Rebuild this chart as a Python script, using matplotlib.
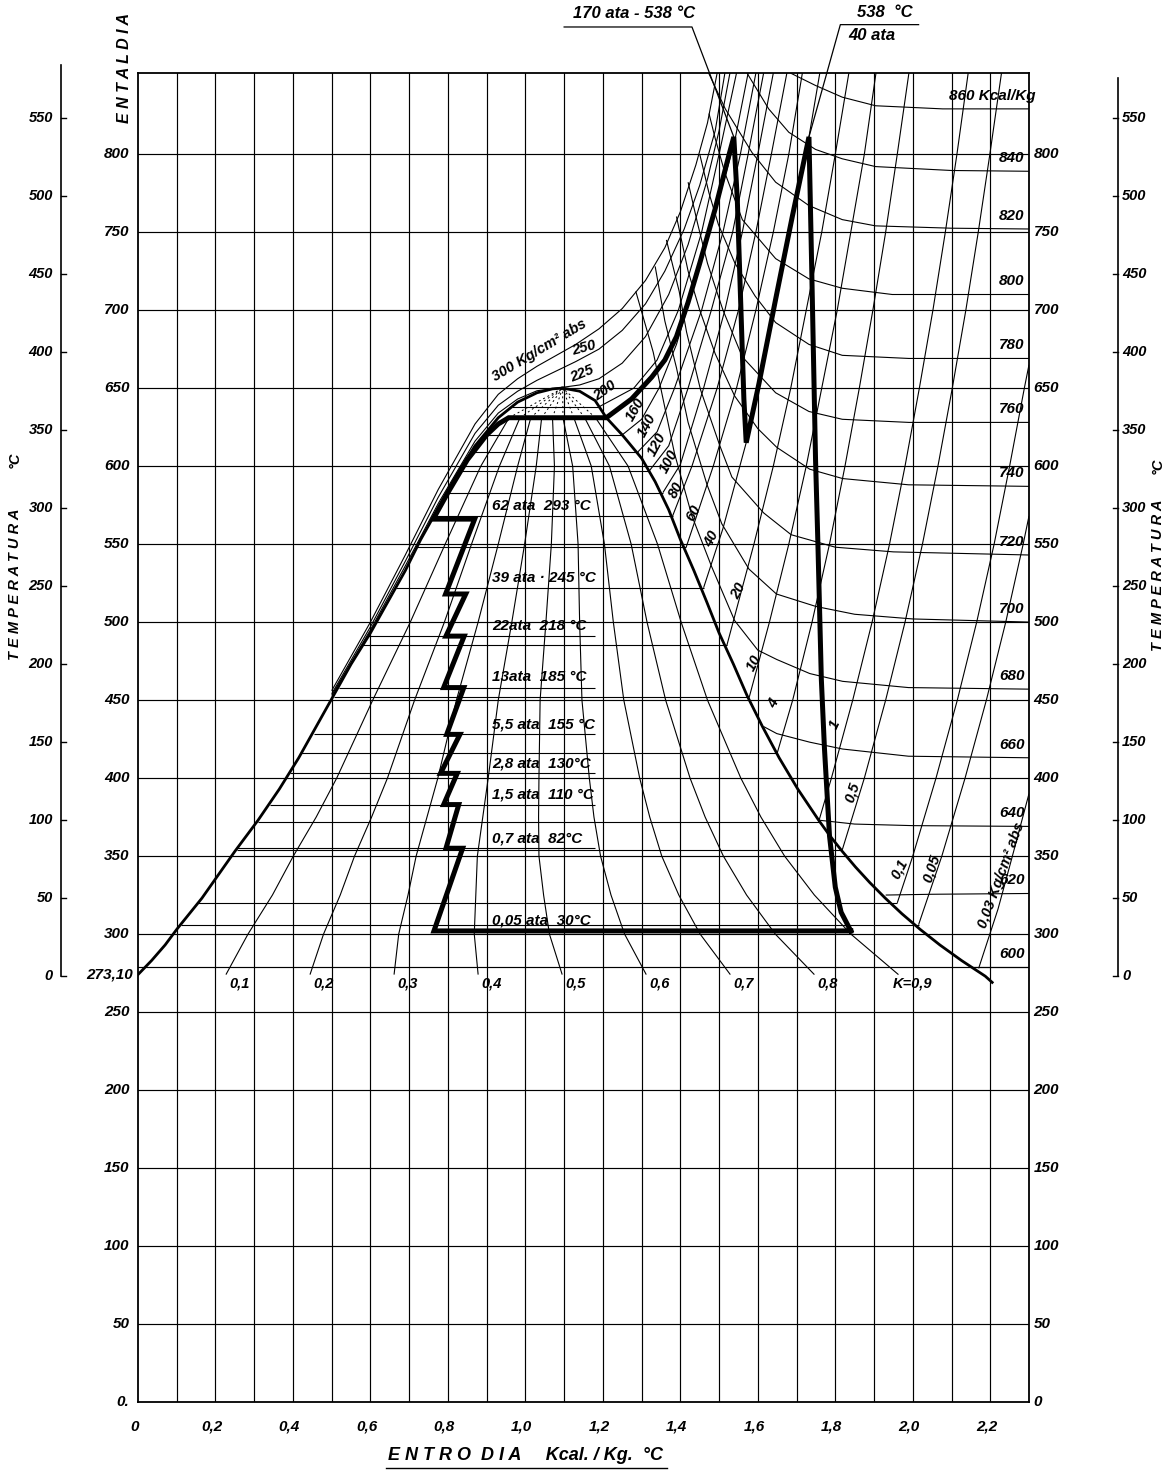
import matplotlib
matplotlib.use("Agg")
import matplotlib.pyplot as plt

plt.rcParams["font.family"] = ["Liberation Sans", "DejaVu Sans"]

# ---------------- saturation curve (s kcal/kg.K , T K) ----------------
liq_s = [0.0, 0.035, 0.07, 0.10, 0.165, 0.25, 0.31, 0.365, 0.415, 0.46, 0.505, 0.55,
         0.60, 0.645, 0.69, 0.73, 0.775, 0.82, 0.87, 0.93, 0.98, 1.03, 1.07, 1.096]
liq_T = [274, 283, 293, 303, 323, 353, 373, 393, 413, 433, 453, 473,
         493, 513, 533, 553, 573, 593, 613, 631, 641, 647, 649.5, 650]
vap_s = [1.096, 1.14, 1.18, 1.209, 1.25, 1.30, 1.335, 1.37, 1.40, 1.435, 1.468, 1.50,
         1.537, 1.572, 1.612, 1.655, 1.703, 1.757, 1.786, 1.818, 1.852, 1.889, 1.929,
         1.972, 2.019, 2.07, 2.126, 2.187, 2.205]
vap_T = [650, 648, 642, 631, 620, 605, 590, 572, 553, 533, 513, 493,
         473, 453, 433, 413, 393, 373, 363, 353, 343, 333, 323,
         313, 303, 293, 283, 273, 269]
crit = (1.096, 650)

# ---------------- constant quality lines ----------------
q_T = [274, 300, 325, 350, 375, 400, 450, 500, 550, 600, 631]
q_01 = [0.227, 0.284, 0.347, 0.401, 0.460, 0.513, 0.606, 0.703, 0.793, 0.885, 0.958]
q_02 = [0.444, 0.479, 0.522, 0.559, 0.603, 0.644, 0.714, 0.791, 0.861, 0.933, 0.986]
q_03 = [0.661, 0.673, 0.697, 0.718, 0.746, 0.774, 0.822, 0.878, 0.930, 0.980, 1.014]
q_04 = [0.878, 0.868, 0.872, 0.876, 0.890, 0.904, 0.930, 0.965, 0.998, 1.028, 1.042]
q_05 = [1.095, 1.062, 1.047, 1.035, 1.034, 1.035, 1.038, 1.053, 1.067, 1.075, 1.070]
q_06 = [1.312, 1.256, 1.221, 1.194, 1.177, 1.165, 1.146, 1.140, 1.136, 1.122, 1.097]
q_07 = [1.529, 1.451, 1.396, 1.352, 1.321, 1.295, 1.254, 1.227, 1.204, 1.170, 1.125]
q_08 = [1.746, 1.645, 1.571, 1.511, 1.464, 1.425, 1.362, 1.314, 1.273, 1.217, 1.153]
q_09 = [1.963, 1.840, 1.746, 1.669, 1.608, 1.556, 1.470, 1.402, 1.341, 1.265, 1.181]
q_names = ["0,1", "0,2", "0,3", "0,4", "0,5", "0,6", "0,7", "0,8", "K=0,9"]

# ---------------- isobars inside the wet region ----------------
wet_T = [638, 620, 609, 597, 583, 568, 548, 522, 485, 452, 416, 372, 354, 320, 306]
wet_sf = [0.965, 0.895, 0.86, 0.83, 0.80, 0.765, 0.72, 0.665, 0.58, 0.505, 0.42, 0.31, 0.255, 0.155, 0.11]
wet_sg = [1.19, 1.25, 1.29, 1.32, 1.355, 1.38, 1.415, 1.46, 1.52, 1.578, 1.65, 1.757, 1.818, 1.96, 2.015]

# feed-heater levels (partial lines)
heat_T = [491, 458, 428, 403, 383, 355]
heat_s0 = [0.595, 0.52, 0.455, 0.392, 0.34, 0.255]
heat_s1 = [1.18, 1.18, 1.18, 1.18, 1.18, 1.18]
heat_lab_T = [568, 522, 491, 458, 428, 403, 383, 355, 302]
heat_lab = ["62 ata  293 °C", "39 ata · 245 °C", "22ata  218 °C", "13ata  185 °C",
            "5,5 ata  155 °C", "2,8 ata  130°C", "1,5 ata  110 °C", "0,7 ata  82°C",
            "0,05 ata  30°C"]

# ---------------- isobars (kg/cm2 abs), superheated / supercritical ----------------
iso_300 = [(0.50, 456), (0.60, 500), (0.69, 543), (0.775, 585), (0.87, 627), (0.93, 646),
           (0.98, 656), (1.03, 664), (1.08, 671), (1.13, 678), (1.19, 688), (1.25, 701),
           (1.31, 719), (1.36, 740), (1.40, 763), (1.44, 793), (1.47, 820), (1.495, 852)]
iso_250 = [(0.50, 454), (0.60, 497), (0.69, 539), (0.775, 580), (0.87, 621), (0.93, 639),
           (0.98, 648), (1.03, 655), (1.08, 661), (1.13, 667), (1.19, 675), (1.25, 687),
           (1.31, 704), (1.36, 725), (1.41, 752), (1.45, 780), (1.49, 815), (1.515, 852)]
iso_225 = [(0.50, 453), (0.60, 495), (0.69, 536), (0.775, 576), (0.87, 616), (0.93, 634),
           (0.98, 643), (1.03, 648.3), (1.096, 650.5), (1.14, 652), (1.19, 656), (1.25, 666),
           (1.31, 683), (1.37, 710), (1.42, 742), (1.47, 784), (1.50, 815), (1.528, 852)]
iso_200 = [(1.19, 638), (1.28, 650), (1.34, 668), (1.395, 700), (1.455, 750), (1.50, 800), (1.545, 852)]
iso_160 = [(1.25, 620), (1.30, 630), (1.345, 650), (1.39, 678), (1.455, 732), (1.50, 772), (1.54, 808), (1.575, 852)]
iso_140 = [(1.29, 609), (1.34, 622), (1.385, 650), (1.42, 675), (1.455, 700), (1.51, 750), (1.555, 800), (1.595, 852)]
iso_120 = [(1.32, 597), (1.37, 613), (1.42, 650), (1.45, 675), (1.48, 700), (1.535, 750), (1.575, 800), (1.615, 852)]
iso_100 = [(1.355, 583), (1.40, 601), (1.46, 650), (1.515, 700), (1.56, 750), (1.60, 800), (1.64, 852)]
iso_80 = [(1.38, 568), (1.43, 600), (1.495, 650), (1.55, 700), (1.595, 750), (1.635, 800), (1.675, 852)]
iso_60 = [(1.415, 548), (1.485, 600), (1.545, 650), (1.595, 700), (1.64, 750), (1.68, 800), (1.715, 852)]
iso_40 = [(1.46, 522), (1.51, 560), (1.57, 615), (1.603, 653), (1.646, 707), (1.689, 760), (1.732, 811), (1.76, 852)]
iso_20 = [(1.52, 485), (1.59, 550), (1.64, 600), (1.685, 650), (1.725, 700), (1.765, 750), (1.80, 800), (1.835, 852)]
iso_10 = [(1.578, 452), (1.63, 500), (1.68, 550), (1.725, 600), (1.765, 650), (1.805, 700), (1.84, 750), (1.875, 800), (1.905, 852)]
iso_4 = [(1.65, 416), (1.69, 450), (1.74, 500), (1.785, 550), (1.825, 600), (1.862, 650), (1.897, 700), (1.93, 750), (1.96, 800), (1.99, 852)]
iso_1 = [(1.757, 372), (1.79, 400), (1.845, 450), (1.895, 500), (1.94, 550), (1.98, 600), (2.017, 650), (2.052, 700), (2.084, 750), (2.114, 800), (2.143, 852)]
iso_05 = [(1.818, 354), (1.875, 400), (1.93, 450), (1.98, 500), (2.025, 550), (2.065, 600), (2.102, 650), (2.137, 700), (2.169, 750), (2.199, 800), (2.229, 852)]
iso_01 = [(1.96, 320), (2.0, 350), (2.06, 400), (2.115, 450), (2.165, 500), (2.21, 550), (2.25, 600), (2.288, 650), (2.3, 665)]
iso_005 = [(2.015, 306), (2.075, 350), (2.135, 400), (2.19, 450), (2.24, 500), (2.285, 550), (2.3, 568)]
iso_003 = [(2.17, 278), (2.22, 316), (2.255, 348), (2.3, 390)]

# ---------------- constant enthalpy lines (kcal/kg) ----------------
h_860 = [(1.684, 852), (1.749, 844), (1.818, 836.5), (1.904, 831), (2.077, 829), (2.3, 829)]
h_840 = [(1.572, 852), (1.628, 829), (1.68, 814), (1.749, 803), (1.818, 797), (1.904, 792), (2.1, 789.5), (2.3, 789)]
h_820 = [(1.473, 852), (1.516, 829), (1.585, 801), (1.646, 782), (1.732, 767), (1.818, 758), (1.904, 754), (2.1, 752.5), (2.3, 752)]
h_800 = [(1.474, 826), (1.49, 810), (1.515, 788), (1.56, 758), (1.646, 733), (1.732, 720), (1.818, 714), (1.947, 710), (2.3, 710)]
h_780 = [(1.45, 800), (1.474, 775), (1.498, 755), (1.541, 730), (1.593, 709), (1.646, 692), (1.732, 678), (1.818, 671), (1.99, 669), (2.3, 669)]
h_760 = [(1.42, 782), (1.445, 755), (1.47, 730), (1.51, 700), (1.56, 670), (1.646, 647), (1.732, 635), (1.818, 630), (1.99, 628), (2.3, 628)]
h_740 = [(1.39, 760), (1.42, 725), (1.45, 700), (1.49, 672), (1.54, 645), (1.60, 624), (1.649, 612), (1.734, 598), (1.819, 592), (1.989, 588), (2.3, 587)]
h_720 = [(1.364, 745), (1.397, 712), (1.416, 686), (1.452, 649), (1.502, 613), (1.533, 593), (1.615, 570), (1.686, 556), (1.80, 548), (1.95, 545), (2.3, 543)]
h_700 = [(1.335, 728), (1.36, 693), (1.39, 663), (1.42, 628), (1.469, 588), (1.507, 563), (1.577, 534), (1.648, 518), (1.75, 510), (1.85, 505), (2.0, 502), (2.3, 500)]
h_680 = [(1.285, 712), (1.33, 673), (1.385, 608), (1.43, 568), (1.48, 536), (1.54, 501), (1.60, 482), (1.649, 476), (1.734, 467), (1.819, 462), (1.989, 458), (2.3, 457)]
h_660 = [(1.615, 433), (1.649, 428.5), (1.734, 423), (1.819, 418.6), (1.989, 414), (2.3, 413)]
h_640 = [(1.757, 373), (1.85, 370.5), (2.0, 369.5), (2.3, 369)]
h_620 = [(1.93, 325), (2.05, 325.5), (2.3, 326)]
h_600 = [(2.15, 279), (2.3, 279)]
h_names = ["860 Kcal/Kg", "840", "820", "800", "780", "760", "740", "720", "700", "680",
           "660", "640", "620", "600"]

# ---------------- cycle (heavy line) ----------------
cyc_s = [1.84, 0.764, 0.838, 0.795, 0.828, 0.789, 0.824, 0.781, 0.831, 0.797, 0.841, 0.789,
         0.842, 0.795, 0.846, 0.794, 0.869, 0.762, 0.80, 0.85, 0.90, 0.93, 0.957, 1.209,
         1.274, 1.326, 1.36, 1.39, 1.42, 1.45, 1.49, 1.525, 1.538, 1.547, 1.564, 1.57,
         1.603, 1.646, 1.689, 1.732, 1.739, 1.749, 1.755, 1.764, 1.772, 1.785, 1.80, 1.815, 1.84]
cyc_T = [302, 302, 355, 355, 383, 383, 403, 403, 428, 428, 458, 458,
         491, 491, 518, 518, 566, 566, 583, 604, 620, 627, 631, 631,
         643, 657, 668, 683, 705, 730, 765, 799, 811, 771, 643, 615,
         653, 707, 760, 811, 728, 604, 551, 463, 419, 363, 330, 314, 302]

# ---------------- axes scales ----------------
s_grid = [0.1, 0.2, 0.3, 0.4, 0.5, 0.6, 0.7, 0.8, 0.9, 1.0, 1.1, 1.2, 1.3, 1.4, 1.5,
          1.6, 1.7, 1.8, 1.9, 2.0, 2.1, 2.2]
T_grid = [50, 100, 150, 200, 250, 300, 350, 400, 450, 500, 550, 600, 650, 700, 750, 800]
T_zero = 279
x_labels = ["0", "0,2", "0,4", "0,6", "0,8", "1,0", "1,2", "1,4", "1,6", "1,8", "2,0", "2,2"]
x_label_pos = [0, 0.2, 0.4, 0.6, 0.8, 1.0, 1.2, 1.4, 1.6, 1.8, 2.0, 2.2]
K_labels = [0, 50, 100, 150, 200, 250, 300, 350, 400, 450, 500, 550, 600, 650, 700, 750, 800]
C_labels = [0, 50, 100, 150, 200, 250, 300, 350, 400, 450, 500, 550]
C_pos = [273, 323, 373, 423, 473, 523, 573, 623, 673, 723, 773, 823]

# ======================================================================
W, H = 1163, 1477
fig = plt.figure(figsize=(W / 100, H / 100), dpi=100)
fig.patch.set_facecolor("white")
ax = fig.add_axes([138 / W, 1 - 1402 / H, (1029 - 138) / W, (1402 - 73) / H])
ax.set_xlim(0, 2.3)
ax.set_ylim(0, 852)
ax.set_xticks([])
ax.set_yticks([])
for sp in ax.spines.values():
    sp.set_linewidth(1.3)

txt = dict(style="italic", weight="bold", color="black")
thin = dict(color="black", lw=0.8, solid_capstyle="butt")

# grid
for s in s_grid:
    ax.axvline(s, color="black", lw=0.85, zorder=1)
for t in T_grid:
    ax.axhline(t, color="black", lw=0.85, zorder=1)
ax.axhline(T_zero, color="black", lw=0.85, zorder=1)

# wet isobars and heater levels
for t, a, b in zip(wet_T, wet_sf, wet_sg):
    ax.plot([a, b], [t, t], zorder=2, **thin)
for t, a, b in zip(heat_T, heat_s0, heat_s1):
    ax.plot([a, b], [t, t], zorder=2, **thin)

# quality lines
q_lines = [q_01, q_02, q_03, q_04, q_05, q_06, q_07, q_08, q_09]
for q, name in zip(q_lines, q_names):
    ax.plot(q, q_T, zorder=2, **thin)
    ax.plot([q[-1], crit[0]], [q_T[-1], crit[1]], color="black", lw=0.7,
            ls=(0, (2, 3)), zorder=2)
    ax.text(q[0] + 0.035, q_T[0] - 1, name, ha="center", va="top", fontsize=10.5, **txt)

# isobars
for iso in [iso_300, iso_250, iso_225, iso_200, iso_160, iso_140, iso_120, iso_100, iso_80,
            iso_60, iso_40, iso_20, iso_10, iso_4, iso_1, iso_05, iso_01, iso_005, iso_003]:
    xs, ys = zip(*iso)
    ax.plot(xs, ys, zorder=2, **thin)

# enthalpy lines
h_lines = [h_860, h_840, h_820, h_800, h_780, h_760, h_740, h_720, h_700, h_680,
           h_660, h_640, h_620, h_600]
for h, name in zip(h_lines, h_names):
    xs, ys = zip(*h)
    ax.plot(xs, ys, zorder=2, **thin)
    xc = 2.205 if "Kcal" in name else 2.255
    ax.text(xc, ys[-1] + 4, name, ha="center", va="bottom", fontsize=11, **txt)

# saturation dome
ax.plot(liq_s, liq_T, color="black", lw=2.0, zorder=3)
ax.plot(vap_s, vap_T, color="black", lw=2.0, zorder=3)

# cycle
ax.plot(cyc_s, cyc_T, color="black", lw=3.6, solid_joinstyle="miter", zorder=4)

# isobar labels
iso_lab = [("300 Kg/cm² abs", 1.035, 674, 31), ("250", 1.15, 676, 15), ("225", 1.145, 659, 22),
           ("200", 1.205, 648, 35), ("160", 1.285, 636, 60), ("140", 1.315, 626, 62),
           ("120", 1.34, 614, 62), ("100", 1.37, 603, 62), ("80", 1.39, 585, 62),
           ("60", 1.435, 570, 62), ("40", 1.48, 553, 62), ("20", 1.55, 520, 62),
           ("10", 1.59, 474, 62), ("4", 1.64, 448, 62), ("1", 1.80, 434, 65),
           ("0,5", 1.845, 391, 72), ("0,1", 1.965, 342, 62), ("0,05", 2.048, 342, 72),
           ("0,03 Kg/cm² abs", 2.228, 338, 70)]
for name, xs, ys, rot in iso_lab:
    ax.text(xs, ys, name, rotation=rot, ha="center", va="center", fontsize=10.5,
            rotation_mode="anchor", **txt)

# heater labels
for t, name in zip(heat_lab_T, heat_lab):
    ax.text(0.915, t + 2, name, ha="left", va="bottom", fontsize=11, **txt)

# inner scales (K)
for k in K_labels:
    ax.text(-0.022, k, str(k) + ("." if k == 0 else ""), ha="right", va="center",
            fontsize=11, **txt)
    ax.text(2.312, k, str(k), ha="left", va="center", fontsize=11, **txt)
ax.text(-0.012, 274, "273,10", ha="right", va="center", fontsize=11, **txt)

# entropy scale
for p, lab in zip(x_label_pos, x_labels):
    ax.text(p - 0.01, -16, lab, ha="center", va="center", fontsize=11, **txt)

# outer Celsius scales
left_x, right_x = -0.20, 2.53
ax.plot([left_x, left_x], [273, 857], color="black", lw=1.2, clip_on=False)
ax.plot([right_x, right_x], [273, 849], color="black", lw=1.2, clip_on=False)
for c, t in zip(C_labels, C_pos):
    ax.plot([left_x, left_x + 0.014], [t, t], color="black", lw=1.0, clip_on=False)
    ax.plot([right_x - 0.014, right_x], [t, t], color="black", lw=1.0, clip_on=False)
    ax.text(left_x - 0.02, t, str(c), ha="right", va="center", fontsize=10.5, **txt)
    ax.text(right_x + 0.01, t, str(c), ha="left", va="center", fontsize=10.5, **txt)

# axis titles
ax.text(-0.035, 855, "E N T A L D I A", rotation=90, ha="center", va="center",
        fontsize=11.5, **txt)
ax.text(-0.318, 524, "T E M P E R A T U R A", rotation=90, ha="center", va="center",
        fontsize=10.5, **txt)
ax.text(-0.318, 604, "°C", rotation=90, ha="center", va="center", fontsize=10.5, **txt)
ax.text(2.632, 530, "T E M P E R A T U R A", rotation=90, ha="center", va="center",
        fontsize=10.5, **txt)
ax.text(2.632, 600, "°C", rotation=90, ha="center", va="center", fontsize=10.5, **txt)
ax.text(1.0, -34, "E N T R O  D I A     Kcal. / Kg.  °C", ha="center", va="center",
        fontsize=13, **txt)
ax.plot([0.64, 1.365], [-42, -42], color="black", lw=1.0, clip_on=False)

# top annotations
ax.text(1.28, 890, "170 ata - 538 °C", ha="center", va="center", fontsize=12, **txt)
ax.plot([1.10, 1.43, 1.538], [881.5, 881.5, 811], color="black", lw=0.9, clip_on=False)
ax.text(1.927, 891, "538  °C", ha="center", va="center", fontsize=12, **txt)
ax.text(1.895, 876, "40 ata", ha="center", va="center", fontsize=12, **txt)
ax.plot([2.015, 1.813, 1.732], [883, 883, 811], color="black", lw=0.9, clip_on=False)

fig.savefig("out.png", dpi=100, facecolor="white")
